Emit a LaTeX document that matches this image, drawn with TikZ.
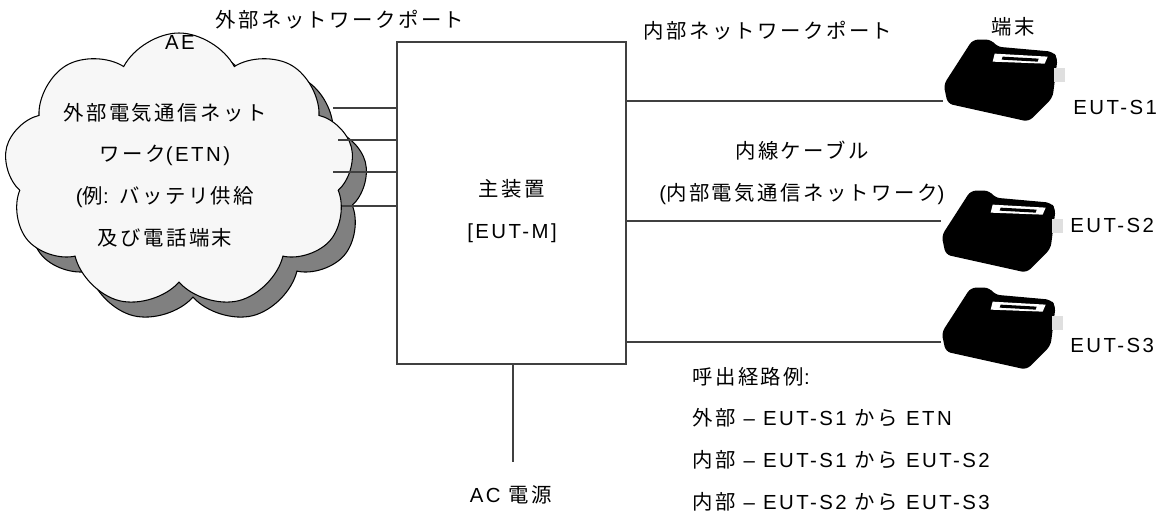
\documentclass[tikz,border=0pt]{standalone}
\usepackage{fontspec}
\setmainfont{Liberation Sans}[LetterSpace=12]
\newfontfamily\jp{Noto Sans CJK JP}[LetterSpace=12]
\usepackage{tikz}
\usetikzlibrary{shapes.symbols,positioning,calc}
\newdimen\pxu \pxu=0.02cm

\begin{document}
\begin{tikzpicture}[x=\pxu, y=-\pxu,
    lbl/.style={font=\fontsize{11.6}{23.8}\selectfont, align=center, inner sep=0pt},
    wire/.style={draw=black!75, line width=0.7pt},
    etncloud/.style={cloud, cloud puffs=9, cloud puff arc=125, aspect=1.3, draw=black, line width=0.6pt, minimum width=350\pxu, minimum height=276\pxu},
    unit/.style={rectangle, draw=black!75, line width=0.7pt, minimum width=229\pxu, minimum height=322\pxu},
    phonebox/.style={rectangle, inner sep=0pt, minimum width=120\pxu, minimum height=84\pxu},
    phone/.pic={
        \fill[black, rounded corners=3pt] (30,2) -- (49,2) -- (54,9) -- (110,14) -- (115,20) -- (110,60) -- (86,84) -- (5,66) -- (1,47) -- (12,30) -- cycle;
        \fill[white] (52,16) -- (105,19) -- (102,26) -- (50,24) -- cycle;
        \fill[black] (60,19) -- (96,21) -- (95,24) -- (59,22) -- cycle;
        \fill[gray!25] (111,30) rectangle (122,44);
    }]
    \useasboundingbox (0,0) rectangle (1164,516);

    % external network (ETN)
    \node[etncloud, fill=gray] (etnshadow) at (193,186) {};
    \node[etncloud, fill=gray!6] (etn) at (179,171) {};
    \node[lbl] (etnlbl) at (165,175) {{\jp 外部電気通信ネット}\\{\jp ワーク}(ETN)\\({\jp 例}: {\jp バッテリ供給}\\{\jp 及び電話端末}};
    \node[lbl] (ae) at (180,42) {AE};

    % main unit
    \node[unit] (main) at (511.5,203) {};
    \node[lbl] (mainlbl) at (512,211) {{\jp 主装置}\\{[EUT-M]}};
    \node[lbl] (extport) at (340,20) {\jp 外部ネットワークポート};
    \node[lbl] (intport) at (768,31) {\jp 内部ネットワークポート};

    \foreach \i/\x/\y in {1/333/108, 2/338/140, 3/333/172, 4/342/206} {
        \coordinate (e\i) at (\x,\y);
        \draw[wire] (e\i) -- (e\i -| main.west);
    }

    % terminals
    \node[phonebox] (s1) at (1003,80) {};
    \node[phonebox] (s2) at (1001,231) {};
    \node[phonebox] (s3) at (1001,328) {};
    \foreach \s in {s1,s2,s3} \pic at (\s.north west) {phone};
    \node[lbl] (term) at (1013,27) {\jp 端末};
    \node[lbl, anchor=west] (s1lbl) at (1073,107) {EUT-S1};
    \node[lbl, anchor=west] (s2lbl) at (1070,225) {EUT-S2};
    \node[lbl, anchor=west] (s3lbl) at (1070,345) {EUT-S3};

    \coordinate (s1in) at ([yshift=-21\pxu]s1.west);
    \coordinate (s2in) at ([yshift=10\pxu]s2.west);
    \coordinate (s3in) at ([yshift=-14\pxu]s3.west);
    \foreach \s in {s1in,s2in,s3in} \draw[wire] (main.east |- \s) -- (\s);

    \node[lbl] (cable) at (802,173) {{\jp 内線ケーブル}\\({\jp 内部電気通信ネットワーク})};

    % power
    \coordinate (ac) at (513,462);
    \draw[wire] (main.south -| ac) -- (ac);
    \node[lbl] (aclbl) at (511,495) {AC {\jp 電源}};

    % call paths
    \node[lbl, align=left, anchor=west] (paths) at (692,439) {{\jp 呼出経路例}:\\{\jp 外部} -- EUT-S1 {\jp から} ETN\\{\jp 内部} -- EUT-S1 {\jp から} EUT-S2\\{\jp 内部} -- EUT-S2 {\jp から} EUT-S3};
\end{tikzpicture}
\end{document}
